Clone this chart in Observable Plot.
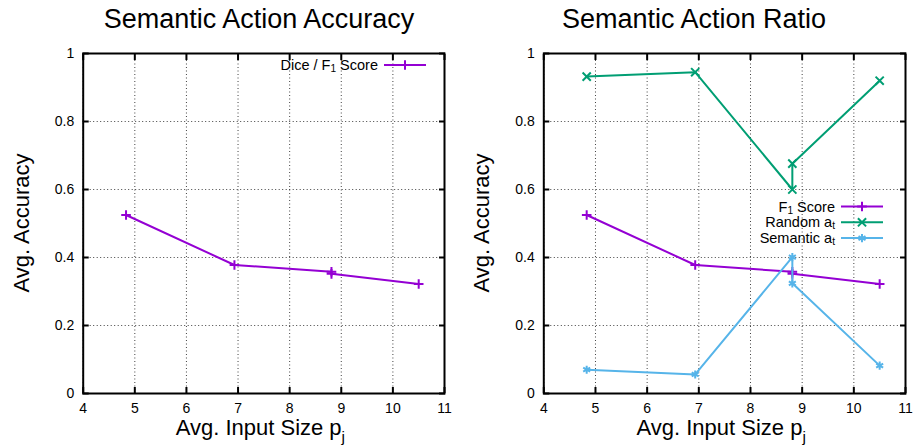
<!DOCTYPE html>
<html><head><meta charset="utf-8">
<script src="https://cdn.jsdelivr.net/npm/d3@7"></script>
<script src="https://cdn.jsdelivr.net/npm/@observablehq/plot@0.6"></script>
<style>
body{margin:0;background:#fff;}
#wrap{position:relative;width:915px;height:445px;font-family:"Liberation Sans",Arial,Helvetica,sans-serif;}
#wrap > div{position:absolute;top:0;}
svg{overflow:visible;}
</style></head><body>
<div id="wrap"><div id="left" style="left:0"></div><div id="right" style="left:457px"></div></div>
<script>
// ---- data ----
const inputSize  = [4.83, 6.93, 8.81, 8.81, 10.5];
const f1Score    = [0.525, 0.378, 0.358, 0.352, 0.322];
const randomAt   = [0.932, 0.945, 0.600, 0.676, 0.920];
const semanticAt = [0.070, 0.056, 0.401, 0.324, 0.082];
const xTicks = [4, 5, 6, 7, 8, 9, 10, 11];
const xTickLabels = ["4", "5", "6", "7", "8", "9", "10", "11"];
const yTicks = [0, 0.2, 0.4, 0.6, 0.8, 1];
const yTickLabels = ["0", "0.2", "0.4", "0.6", "0.8", "1"];
const titles = ["Semantic Action Accuracy", "Semantic Action Ratio"];
const xLabel = [["Avg. Input Size p"], ["j", "sub"]];
const yLabel = [["Avg. Accuracy"]];
const leftLegend = [["Dice / F"], ["1", "sub"], [" Score"]];
const f1Legend = [["F"], ["1", "sub"], [" Score"]];
const randomLegend = [["Random a"], ["t", "sub"]];
const semanticLegend = [["Semantic a"], ["t", "sub"]];

const FONT = '"Liberation Sans", Arial, Helvetica, sans-serif';
const PURPLE = "#9400d3", GREEN = "#009e73", BLUE = "#56b4e9";
const symbolMap = {plus: d3.symbolPlus, times: d3.symbolTimes, asterisk: d3.symbolAsterisk};

function makePanel(series, dims) {
  const marks = [
    Plot.gridX(xTicks, {stroke: "#000", strokeOpacity: 0.75, strokeDasharray: "1,2.5", strokeWidth: 1}),
    Plot.gridY(yTicks, {stroke: "#000", strokeOpacity: 0.75, strokeDasharray: "1,2.5", strokeWidth: 1}),
    Plot.axisX(xTicks, {anchor: "bottom", tickSize: -6, tickPadding: 16, strokeWidth: 2,
      tickFormat: d => xTickLabels[xTicks.indexOf(d)], label: null, fontSize: 14}),
    Plot.axisX(xTicks, {anchor: "top", tickSize: -6, strokeWidth: 2, tickFormat: () => "", label: null}),
    Plot.axisY(yTicks, {anchor: "left", tickSize: -6, tickPadding: 15, strokeWidth: 2,
      tickFormat: d => yTickLabels[yTicks.indexOf(d)], label: null, fontSize: 14}),
    Plot.axisY(yTicks, {anchor: "right", tickSize: -6, strokeWidth: 2, tickFormat: () => "", label: null})
  ];
  for (const s of series) {
    const rows = inputSize.map((x, i) => ({x, y: s.values[i]}));
    marks.push(Plot.line(rows, {x: "x", y: "y", stroke: s.color, strokeWidth: 2}));
    marks.push(Plot.dot(rows, {x: "x", y: "y", stroke: s.color, fill: "none", symbol: s.symbol, r: s.r, strokeWidth: 2}));
  }
  marks.push(Plot.frame({stroke: "#000", strokeWidth: 2}));
  return Plot.plot({
    width: dims.width, height: 445,
    marginLeft: dims.ml, marginRight: dims.mr, marginTop: 53, marginBottom: 52,
    x: {domain: [4, 11]}, y: {domain: [0, 1]},
    style: {fontFamily: FONT, fontSize: "14px", color: "#000", background: "transparent", overflow: "visible"},
    marks
  });
}

function richText(g, x, y, parts, size, anchor = "start", rotate = 0, shift = 0.3) {
  const t = g.append("text")
    .attr("transform", `translate(${x},${y}) rotate(${rotate})`)
    .attr("text-anchor", anchor).attr("font-size", size).attr("fill", "#000")
    .attr("font-family", FONT);
  let shifted = false;
  for (const [str, kind] of parts) {
    const ts = t.append("tspan").text(str);
    if (kind === "sub") { ts.attr("font-size", size * 0.7).attr("dy", size * shift); shifted = true; }
    else if (shifted) { ts.attr("dy", -size * shift); shifted = false; }
  }
}

function decorate(svgNode, dims, title, legendItems) {
  const svg = d3.select(svgNode);
  const g = svg.append("g");
  const fx0 = dims.ml, fx1 = dims.width - dims.mr;
  const cx = (fx0 + fx1) / 2;
  g.append("text").attr("x", dims.titleX).attr("y", 28).attr("text-anchor", "middle")
    .attr("font-size", 27).attr("font-family", FONT).attr("fill", "#000").text(title);
  richText(g, cx - 3, 435, xLabel, 22, "middle");
  richText(g, fx0 - 54, 223, yLabel, 22, "middle", -90);
  legendItems.forEach((it, i) => {
    const y = dims.legY + i * 15.8;
    richText(g, dims.legTextX, y + 5, it.label, 14.5, "end", 0, 0.15);
    g.append("line").attr("x1", dims.legTextX + 6).attr("x2", dims.legTextX + 48)
      .attr("y1", y).attr("y2", y).attr("stroke", it.color).attr("stroke-width", 2);
    g.append("path").attr("transform", `translate(${dims.legTextX + 27},${y})`)
      .attr("d", d3.symbol(symbolMap[it.symbol], Math.PI * it.r * it.r)())
      .attr("stroke", it.color).attr("stroke-width", 2).attr("fill", "none");
  });
}

const sF1 = {values: f1Score, color: PURPLE, symbol: "plus", r: 3.2};
const sRandom = {values: randomAt, color: GREEN, symbol: "times", r: 3.8};
const sSemantic = {values: semanticAt, color: BLUE, symbol: "asterisk", r: 3.8};

const dimsL = {width: 457, ml: 82.7, mr: 13, titleX: 259, legTextX: 378, legY: 65};
const dimsR = {width: 458, ml: 86.3, mr: 10, titleX: 237, legTextX: 378, legY: 206.5};

const left = makePanel([sF1], dimsL);
document.getElementById("left").appendChild(left);
decorate(left, dimsL, titles[0], [{label: leftLegend, color: PURPLE, symbol: "plus", r: 3.2}]);

const right = makePanel([sF1, sRandom, sSemantic], dimsR);
document.getElementById("right").appendChild(right);
decorate(right, dimsR, titles[1], [
  {label: f1Legend, color: PURPLE, symbol: "plus", r: 3.2},
  {label: randomLegend, color: GREEN, symbol: "times", r: 3.8},
  {label: semanticLegend, color: BLUE, symbol: "asterisk", r: 3.8}
]);
</script>
</body></html>
